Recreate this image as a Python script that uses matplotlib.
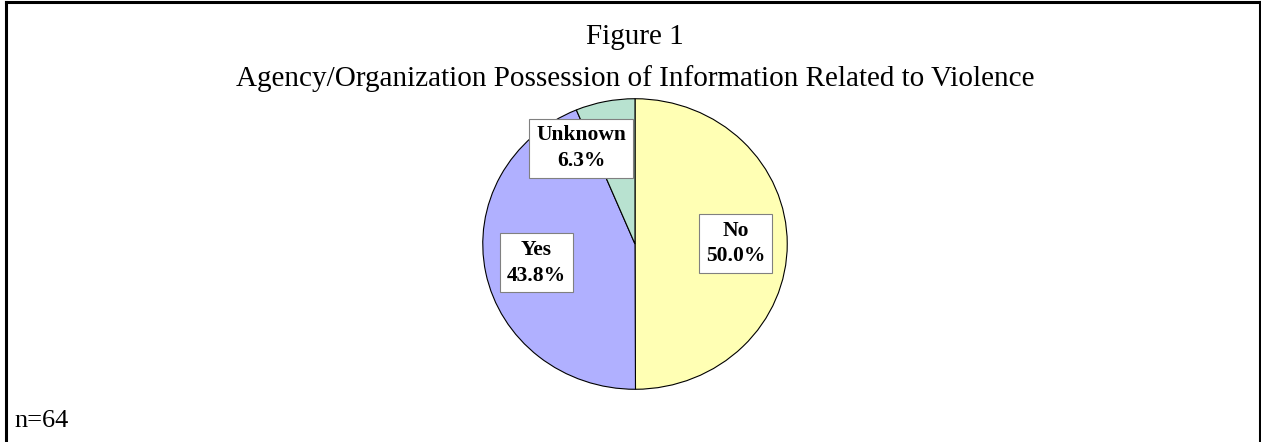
import matplotlib
matplotlib.use("Agg")
import matplotlib.pyplot as plt
from matplotlib.lines import Line2D
import numpy as np

categories = ["No", "Yes", "Unknown"]
values = [50.0, 43.8, 6.3]
colors = ["#FFFFB4", "#B0B0FF", "#B8E2D0"]
title1 = "Figure 1"
title2 = "Agency/Organization Possession of Information Related to Violence"
note = "n=64"

W, H = 1261, 442
fig = plt.figure(figsize=(W / 100, H / 100), dpi=100)
fig.patch.set_facecolor("white")
serif = ["Liberation Serif", "DejaVu Serif"]

# border (top, left, right)
for xs, ys in [([6 / W, 6 / W], [0, 1 - 1.5 / H]),
               ([1259.5 / W, 1259.5 / W], [0, 1 - 1.5 / H]),
               ([6 / W, 1259.5 / W], [1 - 1.5 / H, 1 - 1.5 / H])]:
    fig.add_artist(Line2D(xs, ys, color="black", lw=2.2, transform=fig.transFigure))

fig.text(635 / W, 1 - 37 / H, title1, ha="center", va="center", fontsize=21, family=serif)
fig.text(635 / W, 1 - 79 / H, title2, ha="center", va="center", fontsize=21, family=serif)
fig.text(14 / W, 1 - 427 / H, note, ha="left", va="baseline", fontsize=19, family=serif)

# pie axes (slightly elliptical as in the reference)
left, right, top, bottom = 482, 788, 98, 390
ax = fig.add_axes([left / W, 1 - bottom / H, (right - left) / W, (bottom - top) / H])
wedges, texts = ax.pie(values, colors=colors, startangle=90, counterclock=False,
                       labels=[f"{c}\n{v:.1f}%" for c, v in zip(categories, values)],
                       labeldistance=0.66,
                       wedgeprops=dict(edgecolor="black", linewidth=0.8),
                       textprops=dict(fontsize=15.5, fontweight="bold", family=serif,
                                      ha="center", va="center", linespacing=1.35))
ax.set_aspect("auto")
ax.set_xlim(-1.005, 1.005)
ax.set_ylim(-1.005, 1.005)
for t in texts:
    t.set_horizontalalignment("center")
    t.set_verticalalignment("center")
    t.set_bbox(dict(boxstyle="square,pad=0.32", facecolor="white", edgecolor="#808080", linewidth=0.8))
# Unknown label moved outward-left like the reference
texts[2].set_position((-0.355, 0.66))

fig.savefig("out.png", dpi=100, facecolor="white")
